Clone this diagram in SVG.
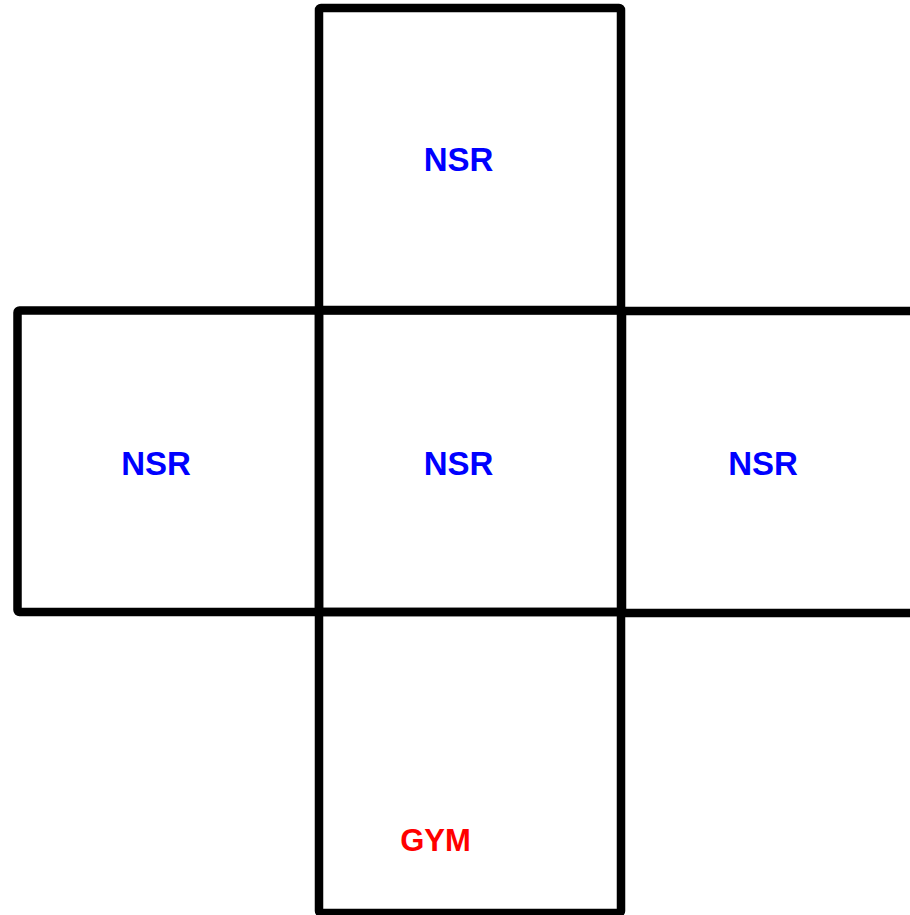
<svg xmlns="http://www.w3.org/2000/svg" width="910" height="915" viewBox="0 0 910 915">
<style>
.box{fill:none;stroke:#000;stroke-width:8.5;stroke-linejoin:round}
.lbl{font-family:"Liberation Sans",Arial,sans-serif;font-weight:bold;text-anchor:middle}
.nsr{fill:#0000ff;font-size:33px}
.gym{fill:#ff0000;font-size:31px}
</style>
<rect width="910" height="915" fill="#fff"/>
<g id="top"><rect class="box" x="319" y="8" width="302" height="302" rx="2"/><text class="lbl nsr" x="458.5" y="171">NSR</text></g>
<g id="left"><rect class="box" x="17.5" y="310.5" width="301.5" height="301.5" rx="2"/><text class="lbl nsr" x="156" y="475">NSR</text></g>
<g id="center"><rect class="box" x="319" y="310.5" width="302" height="301.5"/><text class="lbl nsr" x="458.5" y="475">NSR</text></g>
<g id="right"><rect class="box" x="622" y="311" width="300" height="302"/><text class="lbl nsr" x="763" y="475">NSR</text></g>
<g id="bottom"><rect class="box" x="319" y="612" width="302" height="301" rx="2"/><text class="lbl gym" x="435.5" y="851">GYM</text></g>
</svg>
